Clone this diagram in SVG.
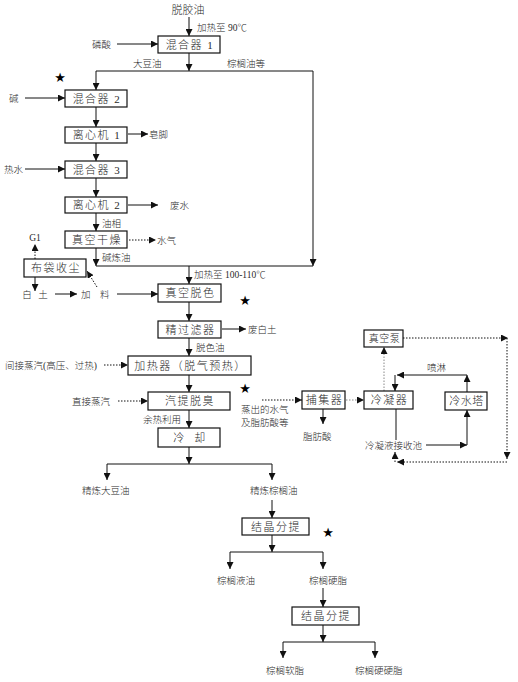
<svg xmlns="http://www.w3.org/2000/svg" width="518" height="682" viewBox="0 0 518 682">
<defs>
<marker id="ah" markerUnits="userSpaceOnUse" markerWidth="8" markerHeight="7" refX="7" refY="3.5" orient="auto">
<path d="M0,0 L7,3.5 L0,7 z" fill="#111"/>
</marker>
<style>
rect.b{fill:#fff;stroke:#111;stroke-width:1.2}
text{font-family:"Liberation Serif","Noto Sans CJK SC",serif;fill:#2a2a2a;font-weight:300}
.bt{font-size:11px;letter-spacing:1.5px;text-anchor:middle}
.lb{font-size:9.5px}
.st{font-family:"DejaVu Sans",sans-serif;font-size:13px;fill:#000;text-anchor:middle;font-weight:400}
#conn line,#conn polyline{stroke:#111;stroke-width:1;fill:none}
#conn .d{stroke-dasharray:1.5 1.5}
#conn .g{stroke:#888}
</style>
</defs>
<rect width="518" height="682" fill="#fff"/>

<g id="conn">
<line x1="189" y1="17" x2="189" y2="36" marker-end="url(#ah)"/>
<line x1="117" y1="44" x2="158" y2="44" marker-end="url(#ah)"/>
<line x1="189" y1="53" x2="189" y2="71" marker-end="url(#ah)"/>
<line x1="96" y1="71" x2="313" y2="71"/>
<line x1="96" y1="71" x2="96" y2="90" marker-end="url(#ah)"/>
<line x1="313" y1="71" x2="313" y2="266" marker-end="url(#ah)"/>
<line x1="25" y1="98" x2="65" y2="98" marker-end="url(#ah)"/>
<line x1="96" y1="107" x2="96" y2="127" marker-end="url(#ah)"/>
<line x1="128" y1="134" x2="148" y2="134" marker-end="url(#ah)"/>
<line x1="96" y1="143" x2="96" y2="161" marker-end="url(#ah)"/>
<line x1="25" y1="169" x2="65" y2="169" marker-end="url(#ah)"/>
<line x1="96" y1="178" x2="96" y2="197" marker-end="url(#ah)"/>
<line x1="128" y1="205" x2="158" y2="205" marker-end="url(#ah)"/>
<line x1="96" y1="213" x2="96" y2="231" marker-end="url(#ah)"/>
<line class="d" x1="129" y1="240" x2="156" y2="240" marker-end="url(#ah)"/>
<line x1="96" y1="248" x2="96" y2="266" marker-end="url(#ah)"/>
<line x1="96" y1="266" x2="313" y2="266"/>
<line x1="189" y1="266" x2="189" y2="284" marker-end="url(#ah)"/>
<line class="d" x1="35" y1="259" x2="35" y2="244" marker-end="url(#ah)"/>
<line x1="35" y1="277" x2="35" y2="291" marker-end="url(#ah)"/>
<line x1="55" y1="294" x2="77" y2="294" marker-end="url(#ah)"/>
<line class="d" x1="97" y1="287" x2="87" y2="271" marker-end="url(#ah)"/>
<line x1="117" y1="294" x2="158" y2="294" marker-end="url(#ah)"/>
<line x1="189" y1="302" x2="189" y2="321" marker-end="url(#ah)"/>
<line x1="222" y1="329" x2="246" y2="329" marker-end="url(#ah)"/>
<line x1="189" y1="338" x2="189" y2="356" marker-end="url(#ah)"/>
<line class="d" x1="104" y1="365" x2="128" y2="365" marker-end="url(#ah)"/>
<line x1="189" y1="375" x2="189" y2="392" marker-end="url(#ah)"/>
<line class="d" x1="118" y1="401" x2="148" y2="401" marker-end="url(#ah)"/>
<line x1="189" y1="410" x2="189" y2="428" marker-end="url(#ah)"/>
<line x1="189" y1="447" x2="189" y2="464" marker-end="url(#ah)"/>
<line x1="107" y1="464" x2="272" y2="464"/>
<line x1="107" y1="464" x2="107" y2="480" marker-end="url(#ah)"/>
<line x1="272" y1="464" x2="272" y2="480" marker-end="url(#ah)"/>
<line class="d" x1="262" y1="400" x2="302" y2="400" marker-end="url(#ah)"/>
<line x1="323" y1="409" x2="323" y2="424" marker-end="url(#ah)"/>
<line class="d g" x1="346" y1="400" x2="364" y2="400" marker-end="url(#ah)"/>
<line class="d g" x1="384" y1="391" x2="384" y2="347" marker-end="url(#ah)"/>
<line class="d" x1="403" y1="338" x2="508" y2="338" marker-end="url(#ah)"/>
<line class="d" x1="507" y1="338" x2="507" y2="459" marker-end="url(#ah)"/>
<line class="d" x1="507" y1="462" x2="397" y2="462" marker-end="url(#ah)"/>
<line class="d" x1="395" y1="462" x2="395" y2="452" marker-end="url(#ah)"/>
<line x1="467" y1="392" x2="467" y2="375" marker-end="url(#ah)"/>
<line x1="467" y1="375" x2="397" y2="375" marker-end="url(#ah)"/>
<line x1="395" y1="375" x2="395" y2="391" marker-end="url(#ah)"/>
<line x1="396" y1="409" x2="396" y2="440"/>
<line x1="426" y1="445" x2="467" y2="445" marker-end="url(#ah)"/>
<line x1="467" y1="445" x2="467" y2="410" marker-end="url(#ah)"/>
<line x1="272" y1="500" x2="272" y2="518" marker-end="url(#ah)"/>
<line x1="272" y1="535" x2="272" y2="552" marker-end="url(#ah)"/>
<line x1="230" y1="552" x2="323" y2="552"/>
<line x1="230" y1="552" x2="230" y2="569" marker-end="url(#ah)"/>
<line x1="323" y1="552" x2="323" y2="569" marker-end="url(#ah)"/>
<line x1="323" y1="588" x2="323" y2="607" marker-end="url(#ah)"/>
<line x1="323" y1="625" x2="323" y2="642" marker-end="url(#ah)"/>
<line x1="283" y1="642" x2="375" y2="642"/>
<line x1="283" y1="642" x2="283" y2="658" marker-end="url(#ah)"/>
<line x1="375" y1="642" x2="375" y2="658" marker-end="url(#ah)"/>
</g>

<g id="n_mix1"><rect class="b" x="158" y="36" width="62" height="17"/><text class="bt" x="190" y="48.5">混合器 1</text></g>
<g id="n_mix2"><rect class="b" x="65" y="90" width="62" height="17"/><text class="bt" x="97" y="102.5">混合器 2</text></g>
<g id="n_cent1"><rect class="b" x="65" y="127" width="62" height="16"/><text class="bt" x="97" y="139">离心机 1</text></g>
<g id="n_mix3"><rect class="b" x="65" y="161" width="62" height="17"/><text class="bt" x="97" y="173.5">混合器 3</text></g>
<g id="n_cent2"><rect class="b" x="65" y="197" width="62" height="16"/><text class="bt" x="97" y="209">离心机 2</text></g>
<g id="n_dry"><rect class="b" x="65" y="231" width="62" height="17"/><text class="bt" x="97" y="243.5">真空干燥</text></g>
<g id="n_bag"><rect class="b" x="24" y="259" width="62" height="18"/><text class="bt" x="56" y="272">布袋收尘</text></g>
<g id="n_bleach"><rect class="b" x="158" y="284" width="63" height="18"/><text class="bt" x="190.5" y="297">真空脱色</text></g>
<g id="n_filter"><rect class="b" x="158" y="321" width="63" height="17"/><text class="bt" x="190.5" y="333.5">精过滤器</text></g>
<g id="n_heater"><rect class="b" x="128" y="356" width="123" height="19"/><text class="bt" x="190.5" y="369.5">加热器（脱气预热）</text></g>
<g id="n_deodor"><rect class="b" x="148" y="392" width="82" height="18"/><text class="bt" x="190" y="405">汽提脱臭</text></g>
<g id="n_cool"><rect class="b" x="158" y="428" width="62" height="19"/><text class="bt" x="190" y="441.5" xml:space="preserve">冷  却</text></g>
<g id="n_trap"><rect class="b" x="302" y="391" width="43" height="18"/><text class="bt" x="324.5" y="404">捕集器</text></g>
<g id="n_cond"><rect class="b" x="364" y="391" width="49" height="18"/><text class="bt" x="389.5" y="404">冷凝器</text></g>
<g id="n_pump"><rect class="b" x="364" y="330" width="39" height="17"/><text class="bt" x="384.5" y="342" style="font-size:10px;letter-spacing:0.5px">真空泵</text></g>
<g id="n_tower"><rect class="b" x="445" y="392" width="42" height="18"/><text class="bt" x="466.5" y="405" style="letter-spacing:0.5px">冷水塔</text></g>
<g id="n_frac1"><rect class="b" x="242" y="518" width="67" height="17"/><text class="bt" x="276" y="530.5">结晶分提</text></g>
<g id="n_frac2"><rect class="b" x="292" y="607" width="67" height="18"/><text class="bt" x="326" y="620">结晶分提</text></g>

<g id="labels">
<text x="188" y="14" style="font-size:11px;text-anchor:middle">脱胶油</text>
<text class="lb" x="197" y="30.5">加热至 90℃</text>
<text class="lb" x="92" y="47.5">磷酸</text>
<text class="lb" x="133" y="66.5">大豆油</text>
<text class="lb" x="227" y="66.5">棕榈油等</text>
<text class="lb" x="9" y="101.5">碱</text>
<text class="lb" x="149" y="137.5">皂脚</text>
<text class="lb" x="4" y="172.5">热水</text>
<text class="lb" x="170" y="208.5">废水</text>
<text class="lb" x="102" y="226.5">油相</text>
<text class="lb" x="157" y="243.5">水气</text>
<text class="lb" x="102" y="261">碱炼油</text>
<text class="lb" x="194" y="278">加热至 100-110℃</text>
<text class="lb" x="35" y="241" style="text-anchor:middle">G1</text>
<text class="lb" x="27" y="297.5" style="text-anchor:middle">白</text>
<text class="lb" x="43" y="297.5" style="text-anchor:middle">土</text>
<text class="lb" x="81" y="297.5">加</text>
<text class="lb" x="100" y="297.5">料</text>
<text class="lb" x="248" y="332.5">废白土</text>
<text class="lb" x="196" y="350.5">脱色油</text>
<text class="lb" x="5" y="368.5">间接蒸汽(高压、过热)</text>
<text class="lb" x="72" y="404.5">直接蒸汽</text>
<text class="lb" x="241" y="413">蒸出的水气</text>
<text class="lb" x="241" y="425.5">及脂肪酸等</text>
<text class="lb" x="143" y="422.5">余热利用</text>
<text class="lb" x="82" y="493.5">精炼大豆油</text>
<text class="lb" x="250" y="493.5">精炼棕榈油</text>
<text class="lb" x="303" y="440">脂肪酸</text>
<text class="lb" x="427" y="371">喷淋</text>
<text class="lb" x="365" y="449">冷凝液接收池</text>
<text class="lb" x="236" y="583.5" style="text-anchor:middle">棕榈液油</text>
<text class="lb" x="328" y="583.5" style="text-anchor:middle">棕榈硬脂</text>
<text class="lb" x="285" y="673.5" style="text-anchor:middle">棕榈软脂</text>
<text class="lb" x="355" y="673.5">棕榈硬硬脂</text>
<text class="st" x="60" y="82">★</text>
<text class="st" x="245" y="305">★</text>
<text class="st" x="245" y="393">★</text>
<text class="st" x="328" y="537">★</text>
</g>
</svg>
